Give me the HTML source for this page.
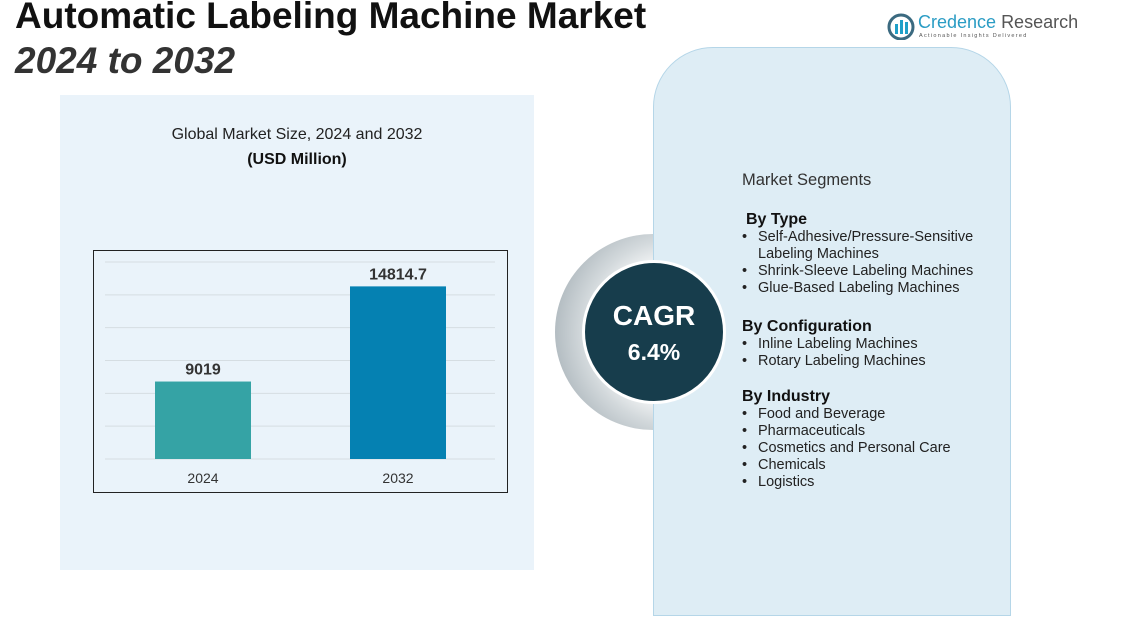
<!DOCTYPE html>
<html><head><meta charset="utf-8">
<style>
body{margin:0;width:1142px;height:628px;background:#fff;position:relative;overflow:hidden;font-family:"Liberation Sans",sans-serif;}
.abs{position:absolute;}
.seg{position:absolute;left:742px;font-size:14.5px;color:#222;line-height:17px;}
.seg b{font-size:16px;color:#111;}
.li{padding-left:16px;position:relative;}
.li:before{content:"•";position:absolute;left:0;}
</style></head><body>
<div class="abs" style="left:15px;top:-5px;font-size:37px;font-weight:bold;color:#111;white-space:nowrap;">Automatic Labeling Machine Market</div>
<div class="abs" style="left:15px;top:40px;font-size:37px;font-weight:bold;font-style:italic;color:#333;">2024 to 2032</div>

<div class="abs" style="left:887px;top:12px;width:180px;height:32px;">
 <svg width="28" height="28" style="position:absolute;left:0;top:0"><circle cx="14" cy="15" r="12" fill="none" stroke="#3b6a80" stroke-width="3"/><rect x="8" y="12" width="3" height="10" fill="#1fa0c8"/><rect x="13" y="8" width="3" height="14" fill="#1fa0c8"/><rect x="18" y="10" width="3" height="12" fill="#1fa0c8"/></svg>
 <div style="position:absolute;left:31px;top:0;font-size:18px;color:#2a9cc4;white-space:nowrap;">Credence <span style="color:#555">Research</span></div>
 <div style="position:absolute;left:32px;top:21px;font-size:5.5px;letter-spacing:1.3px;color:#555;white-space:nowrap;">Actionable Insights Delivered</div>
</div>

<div class="abs" style="left:60px;top:95px;width:474px;height:475px;background:#eaf3fa;"></div>
<div class="abs" style="left:60px;top:126px;width:474px;text-align:center;font-size:16px;color:#222;">Global Market Size, 2024 and 2032</div>
<div class="abs" style="left:60px;top:151px;width:474px;text-align:center;font-size:16px;font-weight:bold;color:#111;">(USD Million)</div>

<svg class="abs" id="chart" style="left:0;top:0" width="1142" height="628"></svg>

<div class="abs" style="left:555px;top:234px;width:196px;height:196px;border-radius:50%;background:radial-gradient(circle at 62% 50%,#ffffff 40%,#d3d9dc 60%,#8d9aa2 100%);"></div>
<div class="abs" style="left:653px;top:47px;width:356px;height:567px;background:#deedf5;border:1.5px solid #b5d6e8;border-radius:60px 60px 0 0;"></div>
<div class="abs" style="left:582px;top:260px;width:144px;height:144px;border-radius:50%;background:#173d4c;border:3px solid #fff;box-sizing:border-box;"></div>
<div class="abs" style="left:582px;top:300px;width:144px;text-align:center;color:#fff;font-size:28px;font-weight:bold;">CAGR</div>
<div class="abs" style="left:582px;top:339px;width:144px;text-align:center;color:#fff;font-size:23px;font-weight:bold;">6.4%</div>

<div class="seg" style="top:172px;font-size:16.5px;color:#333;">Market Segments</div>
<div class="seg" style="top:211px;">
 <b style="padding-left:4px">By Type</b>
 <div class="li">Self-Adhesive/Pressure-Sensitive<br>Labeling Machines</div>
 <div class="li">Shrink-Sleeve Labeling Machines</div>
 <div class="li">Glue-Based Labeling Machines</div>
</div>
<div class="seg" style="top:318px;">
 <b>By Configuration</b>
 <div class="li">Inline Labeling Machines</div>
 <div class="li">Rotary Labeling Machines</div>
</div>
<div class="seg" style="top:388px;">
 <b>By Industry</b>
 <div class="li">Food and Beverage</div>
 <div class="li">Pharmaceuticals</div>
 <div class="li">Cosmetics and Personal Care</div>
 <div class="li">Chemicals</div>
 <div class="li">Logistics</div>
</div>

<script>
const categories=["2024","2032"];
const values=[9019,14814.7];
const valueLabels=["9019","14814.7"];
const colors=["#35a3a5","#0581b2"];
const yMin=4300,yMax=16300,gridCount=6;
const NS="http://www.w3.org/2000/svg";
const svg=document.getElementById('chart');
const plotTop=262,plotBottom=459,plotLeft=105,plotRight=495;
function y(v){return plotBottom-(v-yMin)/(yMax-yMin)*(plotBottom-plotTop);}
function xc(i){return 203+i*195;}
function mk(t,a){const e=document.createElementNS(NS,t);for(const k in a)e.setAttribute(k,a[k]);svg.appendChild(e);return e;}
const frame=mk('rect',{x:93.5,y:250.5,width:414,height:242,fill:'none',stroke:'#222','stroke-width':1});


for(let g=0;g<=gridCount;g++){
 const v=yMin+(yMax-yMin)*g/gridCount;
 const l=mk('line',{x1:plotLeft,x2:plotRight,y1:y(v),y2:y(v),stroke:'#d5dde2','stroke-width':1});
 
 
}
categories.forEach((c,i)=>{
 const bw=96;
 const r=mk('rect',{x:xc(i)-bw/2,y:y(values[i]),width:bw,height:plotBottom-y(values[i]),fill:colors[i]});
 
 
 const t=mk('text',{x:xc(i),y:y(values[i])-7,'text-anchor':'middle','font-size':16,'font-weight':'bold',fill:'#333','font-family':'Liberation Sans'});
 t.textContent=valueLabels[i];
 
 
 const xl=mk('text',{x:xc(i),y:483,'text-anchor':'middle','font-size':14,fill:'#333','font-family':'Liberation Sans'});
 xl.textContent=c;
 
 
});
</script>
</body></html>
